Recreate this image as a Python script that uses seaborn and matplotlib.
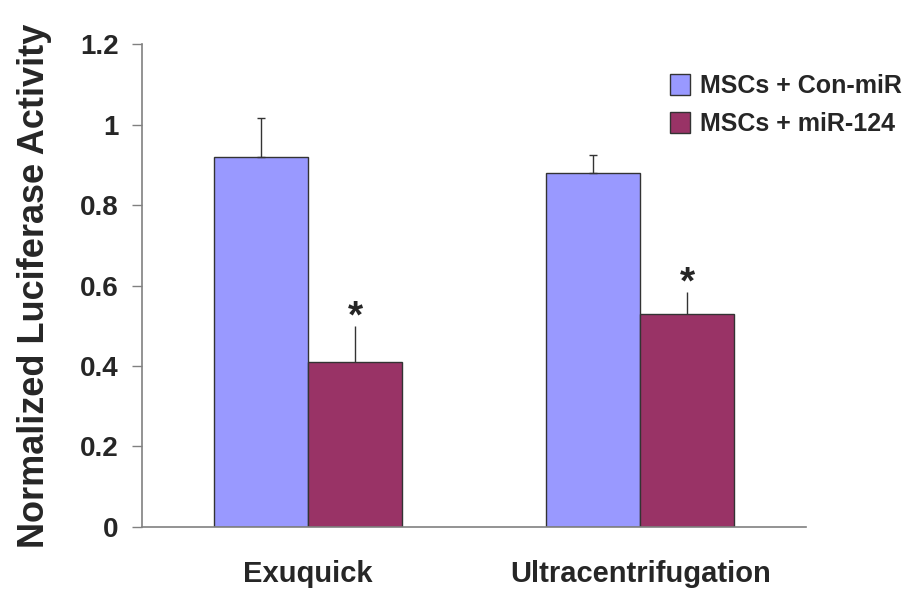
import matplotlib
matplotlib.use("Agg")
import matplotlib.pyplot as plt
import seaborn as sns
import pandas as pd
import numpy as np
from matplotlib.patches import Patch
import matplotlib.transforms as mtransforms

categories = ["Exuquick", "Ultracentrifugation"]
series = ["MSCs + Con-miR", "MSCs + miR-124"]
con_values = [0.92, 0.88]
con_err = [0.097, 0.045]
mir_values = [0.41, 0.53]
mir_err = [0.09, 0.055]
significance = ["*", "*"]
yticks = [0, 0.2, 0.4, 0.6, 0.8, 1.0, 1.2]
ytick_labels = ["0", "0.2", "0.4", "0.6", "0.8", "1", "1.2"]

colors = ["#9999FF", "#993366"]

df = pd.DataFrame({
    "category": categories * 2,
    "series": [series[0]] * 2 + [series[1]] * 2,
    "value": con_values + mir_values,
    "err": con_err + mir_err,
})

sns.set_style("white")
plt.rcParams["font.family"] = ["Liberation Sans", "DejaVu Sans"]
plt.rcParams["font.weight"] = "bold"

fig = plt.figure(figsize=(9.05, 5.9), dpi=100)
ax = fig.add_axes([0.157, 0.107, 0.734, 0.818])

sns.barplot(data=df, x="category", y="value", hue="series", order=categories,
            hue_order=series, palette=colors, width=0.567, errorbar=None,
            edgecolor="#333333", linewidth=1.0, saturation=1, ax=ax, legend=False)

# error bars (upper only) on bar centers
for si, s in enumerate(series):
    cont = ax.containers[si]
    for ci, patch in enumerate(cont.patches):
        row = df[(df["series"] == s) & (df["category"] == categories[ci])].iloc[0]
        xc = patch.get_x() + patch.get_width() / 2
        cap = 3 if si == 0 else 0
        ax.errorbar(xc, row["value"], yerr=[[0], [row["err"]]], fmt="none",
                    ecolor="#333333", elinewidth=1.0, capsize=cap, capthick=1.0,
                    zorder=1)
        if si == 1:
            tr = mtransforms.offset_copy(ax.transData, fig=fig, x=0, y=12, units="dots")
            ax.text(xc, row["value"] + row["err"], significance[ci], transform=tr,
                    ha="center", va="center_baseline", fontsize=28, fontweight="bold")

ax.set_xlim(-0.5, 1.5)
ax.set_ylim(0, 1.2)
ax.set_yticks(yticks)
ax.set_yticklabels(ytick_labels)
ax.tick_params(axis="y", which="major", direction="out", length=7, width=1,
               color="#808080", labelsize=20, pad=10, left=True)
ax.tick_params(axis="x", length=0, labelsize=21, pad=24)
for lab in ax.get_xticklabels() + ax.get_yticklabels():
    lab.set_fontweight("bold")

ax.set_xlabel("")
ax.set_ylabel("Normalized Luciferase Activity", fontsize=26, fontweight="bold", labelpad=20)

for side in ["top", "right"]:
    ax.spines[side].set_visible(False)
for side in ["left", "bottom"]:
    ax.spines[side].set_color("#808080")
    ax.spines[side].set_linewidth(1.2)

handles = [Patch(facecolor=colors[i], edgecolor="#333333", label=series[i]) for i in range(2)]
fig.legend(handles=handles, loc="upper left", bbox_to_anchor=(0.726, 0.895),
           frameon=False, prop={"size": 18, "weight": "bold"}, borderpad=0,
           handlelength=0.8, handleheight=0.9, handletextpad=0.4, labelspacing=0.55)

fig.savefig("out.png", dpi=100)
